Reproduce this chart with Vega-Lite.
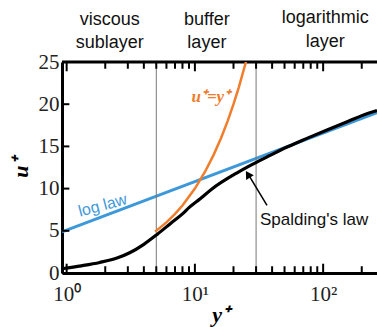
{
  "$schema": "https://vega.github.io/schema/vega-lite/v6.json",
  "autosize": "none",
  "width": 315,
  "height": 211,
  "padding": {"left": 62, "top": 62, "right": 0, "bottom": 54},
  "background": "white",
  "config": {"view": {"stroke": null}},
  "datasets": {
    "spalding": [
      {"yp": 0.92, "up": 0.5}, {"yp": 1.3, "up": 0.85}, {"yp": 1.81, "up": 1.25},
      {"yp": 2.5, "up": 1.8}, {"yp": 3.1, "up": 2.4}, {"yp": 4.0, "up": 3.4},
      {"yp": 5.1, "up": 4.6}, {"yp": 6.5, "up": 5.9}, {"yp": 8.0, "up": 7.0},
      {"yp": 9.08, "up": 7.8}, {"yp": 11.0, "up": 8.8}, {"yp": 13.43, "up": 9.9},
      {"yp": 21.5, "up": 11.9}, {"yp": 28.3, "up": 12.9}, {"yp": 38.2, "up": 13.9},
      {"yp": 52.9, "up": 14.95}, {"yp": 74.7, "up": 15.95}, {"yp": 107.2, "up": 16.95},
      {"yp": 155.7, "up": 17.95}, {"yp": 228, "up": 18.95}, {"yp": 263, "up": 19.25}
    ],
    "linear": [
      {"yp": 4.9, "up": 4.9}, {"yp": 6, "up": 6}, {"yp": 7, "up": 7}, {"yp": 8, "up": 8},
      {"yp": 10, "up": 10}, {"yp": 12, "up": 12}, {"yp": 14, "up": 14}, {"yp": 16, "up": 16},
      {"yp": 18, "up": 18}, {"yp": 20, "up": 20}, {"yp": 22, "up": 22}, {"yp": 25, "up": 25},
      {"yp": 27, "up": 27}
    ],
    "loglaw": [{"yp": 0.92, "up": 4.88}, {"yp": 263, "up": 19.0}],
    "bounds": [{"yp": 5}, {"yp": 30}],
    "topborder": [{"xa": 0.92, "xb": 263, "yt": 25}],
    "ticksx": [
      {"tx": 1, "b0": 0, "b1": 1.1, "t0": 25, "t1": 23.9},
      {"tx": 2, "b0": 0, "b1": 0.8, "t0": 25, "t1": 24.2},
      {"tx": 3, "b0": 0, "b1": 0.8, "t0": 25, "t1": 24.2},
      {"tx": 4, "b0": 0, "b1": 0.8, "t0": 25, "t1": 24.2},
      {"tx": 5, "b0": 0, "b1": 0.8, "t0": 25, "t1": 24.2},
      {"tx": 6, "b0": 0, "b1": 0.8, "t0": 25, "t1": 24.2},
      {"tx": 7, "b0": 0, "b1": 0.8, "t0": 25, "t1": 24.2},
      {"tx": 8, "b0": 0, "b1": 0.8, "t0": 25, "t1": 24.2},
      {"tx": 9, "b0": 0, "b1": 0.8, "t0": 25, "t1": 24.2},
      {"tx": 10, "b0": 0, "b1": 1.1, "t0": 25, "t1": 23.9},
      {"tx": 20, "b0": 0, "b1": 0.8, "t0": 25, "t1": 24.2},
      {"tx": 30, "b0": 0, "b1": 0.8, "t0": 25, "t1": 24.2},
      {"tx": 40, "b0": 0, "b1": 0.8, "t0": 25, "t1": 24.2},
      {"tx": 50, "b0": 0, "b1": 0.8, "t0": 25, "t1": 24.2},
      {"tx": 60, "b0": 0, "b1": 0.8, "t0": 25, "t1": 24.2},
      {"tx": 70, "b0": 0, "b1": 0.8, "t0": 25, "t1": 24.2},
      {"tx": 80, "b0": 0, "b1": 0.8, "t0": 25, "t1": 24.2},
      {"tx": 90, "b0": 0, "b1": 0.8, "t0": 25, "t1": 24.2},
      {"tx": 100, "b0": 0, "b1": 1.1, "t0": 25, "t1": 23.9},
      {"tx": 200, "b0": 0, "b1": 0.8, "t0": 25, "t1": 24.2}
    ],
    "ticksy": [
      {"ty": 0, "x0": 0.92, "x1": 1.05}, {"ty": 5, "x0": 0.92, "x1": 1.05},
      {"ty": 10, "x0": 0.92, "x1": 1.05}, {"ty": 15, "x0": 0.92, "x1": 1.05},
      {"ty": 20, "x0": 0.92, "x1": 1.05}, {"ty": 25, "x0": 0.92, "x1": 1.05}
    ],
    "arrow": [{"x1": 36.5, "u1": 8.0, "x2": 26.5, "u2": 11.5}],
    "head": [{"yp": 25.9, "up": 11.7}],
    "regions": [
      {"yp": 2.17, "up": 30.0, "t": "viscous"},
      {"yp": 2.17, "up": 27.2, "t": "sublayer"},
      {"yp": 12.4, "up": 30.0, "t": "buffer"},
      {"yp": 12.4, "up": 27.2, "t": "layer"},
      {"yp": 104, "up": 30.2, "t": "logarithmic"},
      {"yp": 104, "up": 27.4, "t": "layer"}
    ]
  },
  "layer": [
    {
      "data": {"name": "loglaw"},
      "mark": {"type": "line", "color": "#3c98d8", "strokeWidth": 3},
      "encoding": {
        "x": {"field": "yp", "type": "quantitative",
          "scale": {"type": "log", "domain": [0.92, 263], "nice": false},
          "axis": {
            "orient": "bottom",
            "values": [1, 10, 100],
            "labelExpr": "datum.value == 1 ? '10⁰' : datum.value == 10 ? '10¹' : datum.value == 100 ? '10²' : ''",
            "labelFont": "Liberation Serif", "labelFontSize": 21, "labelColor": "#222222",
            "labelPadding": 10, "labelFlush": false, "labelOverlap": false, "labelBound": false,
            "ticks": false,
            "domainWidth": 3, "domainColor": "black", "grid": false,
            "title": "y⁺", "titleFont": "Liberation Serif", "titleFontSize": 22,
            "titleFontStyle": "italic", "titleFontWeight": "bold", "titlePadding": 0,
            "titleX": 158, "titleColor": "black"
          }
        },
        "y": {"field": "up", "type": "quantitative",
          "scale": {"domain": [0, 25], "nice": false},
          "axis": {
            "orient": "left", "values": [0, 5, 10, 15, 20, 25],
            "labelFont": "Liberation Serif", "labelFontSize": 21, "labelColor": "#222222",
            "labelPadding": 3, "labelFlush": false, "labelBound": false,
            "ticks": false,
            "domainWidth": 3, "domainColor": "black", "grid": false,
            "title": "u⁺", "titleFont": "Liberation Serif", "titleFontSize": 22,
            "titleFontStyle": "italic", "titleFontWeight": "bold", "titlePadding": 6,
            "titleColor": "black"
          }
        }
      }
    },
    {
      "data": {"name": "bounds"},
      "mark": {"type": "rule", "color": "#777777", "strokeWidth": 1},
      "encoding": {
        "x": {"field": "yp", "type": "quantitative"}
      }
    },
    {
      "data": {"name": "topborder"},
      "mark": {"type": "rule", "color": "black", "strokeWidth": 3},
      "encoding": {
        "x": {"field": "xa", "type": "quantitative"},
        "x2": {"field": "xb"},
        "y": {"field": "yt", "type": "quantitative"}
      }
    },
    {
      "data": {"name": "ticksx"},
      "mark": {"type": "rule", "color": "black", "strokeWidth": 2},
      "encoding": {
        "x": {"field": "tx", "type": "quantitative"},
        "y": {"field": "b0", "type": "quantitative"},
        "y2": {"field": "b1"}
      }
    },
    {
      "data": {"name": "ticksx"},
      "mark": {"type": "rule", "color": "black", "strokeWidth": 2},
      "encoding": {
        "x": {"field": "tx", "type": "quantitative"},
        "y": {"field": "t0", "type": "quantitative"},
        "y2": {"field": "t1"}
      }
    },
    {
      "data": {"name": "ticksy"},
      "mark": {"type": "rule", "color": "black", "strokeWidth": 2},
      "encoding": {
        "x": {"field": "x0", "type": "quantitative"},
        "x2": {"field": "x1"},
        "y": {"field": "ty", "type": "quantitative"}
      }
    },
    {
      "data": {"name": "linear"},
      "mark": {"type": "line", "color": "#f07d2c", "strokeWidth": 2.5, "clip": true},
      "encoding": {
        "x": {"field": "yp", "type": "quantitative"},
        "y": {"field": "up", "type": "quantitative"}
      }
    },
    {
      "data": {"name": "spalding"},
      "mark": {"type": "line", "color": "black", "strokeWidth": 3.2, "interpolate": "monotone"},
      "encoding": {
        "x": {"field": "yp", "type": "quantitative"},
        "y": {"field": "up", "type": "quantitative"}
      }
    },
    {
      "data": {"name": "arrow"},
      "mark": {"type": "rule", "color": "black", "strokeWidth": 1.5},
      "encoding": {
        "x": {"field": "x1", "type": "quantitative"},
        "y": {"field": "u1", "type": "quantitative"},
        "x2": {"field": "x2"},
        "y2": {"field": "u2"}
      }
    },
    {
      "data": {"name": "head"},
      "mark": {"type": "point", "shape": "triangle-up", "filled": true, "color": "black", "size": 80, "angle": 328, "opacity": 1},
      "encoding": {
        "x": {"field": "yp", "type": "quantitative"},
        "y": {"field": "up", "type": "quantitative"}
      }
    },
    {
      "data": {"values": [{"yp": 1.91, "up": 8.0, "t": "log law"}]},
      "mark": {"type": "text", "color": "#3c98d8", "font": "Liberation Sans", "fontSize": 16, "angle": 345, "align": "center", "baseline": "middle"},
      "encoding": {
        "x": {"field": "yp", "type": "quantitative"},
        "y": {"field": "up", "type": "quantitative"},
        "text": {"field": "t"}
      }
    },
    {
      "data": {"values": [{"yp": 13.3, "up": 20.9, "t": "u⁺=y⁺"}]},
      "mark": {"type": "text", "color": "#f07d2c", "font": "Liberation Serif", "fontSize": 17, "fontStyle": "italic", "fontWeight": "bold", "align": "center", "baseline": "middle"},
      "encoding": {
        "x": {"field": "yp", "type": "quantitative"},
        "y": {"field": "up", "type": "quantitative"},
        "text": {"field": "t"}
      }
    },
    {
      "data": {"values": [{"yp": 32.2, "up": 6.3, "t": "Spalding's law"}]},
      "mark": {"type": "text", "color": "#111111", "font": "Liberation Sans", "fontSize": 17, "align": "left", "baseline": "middle"},
      "encoding": {
        "x": {"field": "yp", "type": "quantitative"},
        "y": {"field": "up", "type": "quantitative"},
        "text": {"field": "t"}
      }
    },
    {
      "data": {"name": "regions"},
      "mark": {"type": "text", "color": "#111111", "font": "Liberation Sans", "fontSize": 18, "align": "center", "baseline": "middle"},
      "encoding": {
        "x": {"field": "yp", "type": "quantitative"},
        "y": {"field": "up", "type": "quantitative"},
        "text": {"field": "t"}
      }
    }
  ]
}
